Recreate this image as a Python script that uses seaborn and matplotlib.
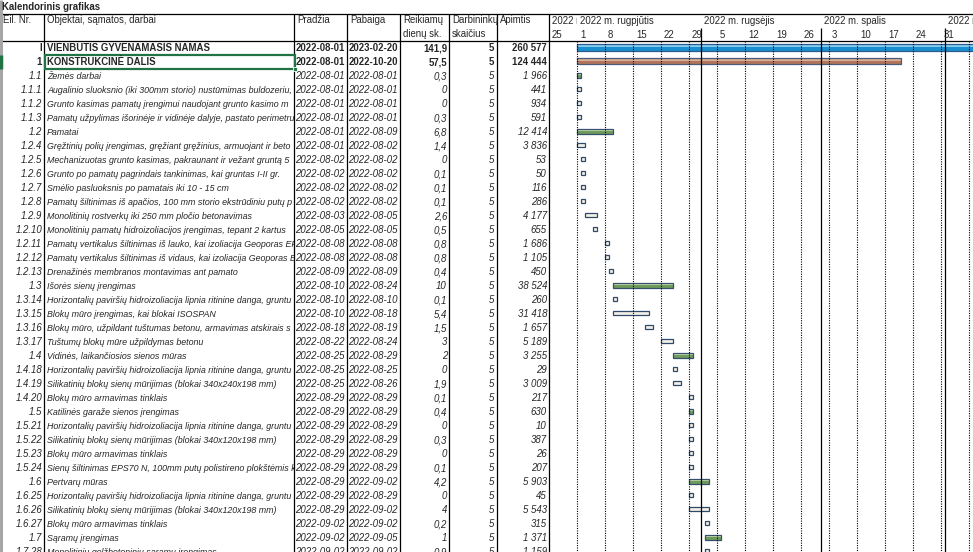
import pandas as pd
import matplotlib
matplotlib.use("Agg")
import matplotlib.pyplot as plt
import matplotlib.dates as mdates
from matplotlib.transforms import Bbox
from matplotlib.patches import Rectangle
import seaborn as sns

# Duomenys (nuskaityti nuo paveikslo, pavadinimai tiek, kiek matosi langelyje)
nr = ["I", "1", "1.1", "1.1.1", "1.1.2", "1.1.3", "1.2", "1.2.4", "1.2.5", "1.2.6",
      "1.2.7", "1.2.8", "1.2.9", "1.2.10", "1.2.11", "1.2.12", "1.2.13", "1.3",
      "1.3.14", "1.3.15", "1.3.16", "1.3.17", "1.4", "1.4.18", "1.4.19", "1.4.20",
      "1.5", "1.5.21", "1.5.22", "1.5.23", "1.5.24", "1.6", "1.6.25", "1.6.26",
      "1.6.27", "1.7", "1.7.28"]
names = [
    "VIENBUTIS GYVENAMASIS NAMAS",
    "KONSTRUKCINĖ DALIS",
    "Žemės darbai",
    "Augalinio sluoksnio (iki 300mm storio) nustūmimas buldozeriu,",
    "Grunto kasimas pamatų įrengimui naudojant grunto kasimo m",
    "Pamatų užpylimas išorinėje ir vidinėje dalyje, pastato perimetru",
    "Pamatai",
    "Gręžtinių polių įrengimas, gręžiant gręžinius, armuojant ir beto",
    "Mechanizuotas grunto kasimas, pakraunant ir vežant gruntą 5",
    "Grunto po pamatų pagrindais tankinimas, kai gruntas I-II gr.",
    "Smėlio pasluoksnis po pamatais iki 10 - 15 cm",
    "Pamatų šiltinimas iš apačios, 100 mm storio ekstrūdiniu putų p",
    "Monolitinių rostverkų iki 250 mm pločio betonavimas",
    "Monolitinių pamatų hidroizoliacijos įrengimas, tepant 2 kartus",
    "Pamatų vertikalus šiltinimas iš lauko, kai izoliacija Geoporas EP",
    "Pamatų vertikalus šiltinimas iš vidaus, kai izoliacija Geoporas E",
    "Drenažinės membranos montavimas ant pamato",
    "Išorės sienų įrengimas",
    "Horizontalių paviršių hidroizoliacija lipnia ritinine danga, gruntu",
    "Blokų mūro įrengimas, kai blokai ISOSPAN",
    "Blokų mūro, užpildant tuštumas betonu, armavimas atskirais s",
    "Tuštumų blokų mūre užpildymas betonu",
    "Vidinės, laikančiosios sienos mūras",
    "Horizontalių paviršių hidroizoliacija lipnia ritinine danga, gruntu",
    "Silikatinių blokų sienų mūrijimas (blokai 340x240x198 mm)",
    "Blokų mūro armavimas tinklais",
    "Katilinės garaže sienos įrengimas",
    "Horizontalių paviršių hidroizoliacija lipnia ritinine danga, gruntu",
    "Silikatinių blokų sienų mūrijimas (blokai 340x120x198 mm)",
    "Blokų mūro armavimas tinklais",
    "Sienų šiltinimas EPS70 N, 100mm putų polistireno plokštėmis k",
    "Pertvarų mūras",
    "Horizontalių paviršių hidroizoliacija lipnia ritinine danga, gruntu",
    "Silikatinių blokų sienų mūrijimas (blokai 340x120x198 mm)",
    "Blokų mūro armavimas tinklais",
    "Sąramų įrengimas",
    "Monolitinių gelžbetoninių sąramų įrengimas",
]
start = ["2022-08-01", "2022-08-01", "2022-08-01", "2022-08-01", "2022-08-01", "2022-08-01",
         "2022-08-01", "2022-08-01", "2022-08-02", "2022-08-02", "2022-08-02", "2022-08-02",
         "2022-08-03", "2022-08-05", "2022-08-08", "2022-08-08", "2022-08-09", "2022-08-10",
         "2022-08-10", "2022-08-10", "2022-08-18", "2022-08-22", "2022-08-25", "2022-08-25",
         "2022-08-25", "2022-08-29", "2022-08-29", "2022-08-29", "2022-08-29", "2022-08-29",
         "2022-08-29", "2022-08-29", "2022-08-29", "2022-08-29", "2022-09-02", "2022-09-02",
         "2022-09-02"]
end = ["2023-02-20", "2022-10-20", "2022-08-01", "2022-08-01", "2022-08-01", "2022-08-01",
       "2022-08-09", "2022-08-02", "2022-08-02", "2022-08-02", "2022-08-02", "2022-08-02",
       "2022-08-05", "2022-08-05", "2022-08-08", "2022-08-08", "2022-08-09", "2022-08-24",
       "2022-08-10", "2022-08-18", "2022-08-19", "2022-08-24", "2022-08-29", "2022-08-25",
       "2022-08-26", "2022-08-29", "2022-08-29", "2022-08-29", "2022-08-29", "2022-08-29",
       "2022-08-29", "2022-09-02", "2022-08-29", "2022-09-02", "2022-09-02", "2022-09-05",
       "2022-09-02"]
days = [141.9, 57.5, 0.3, 0, 0, 0.3, 6.8, 1.4, 0, 0.1, 0.1, 0.1, 2.6, 0.5, 0.8, 0.8, 0.4,
        10, 0.1, 5.4, 1.5, 3, 2, 0, 1.9, 0.1, 0.4, 0, 0.3, 0, 0.1, 4.2, 0, 4, 0.2, 1, 0.9]
workers = [5] * 37
volume = [260577, 124444, 1966, 441, 934, 591, 12414, 3836, 53, 50, 116, 286, 4177, 655,
          1686, 1105, 450, 38524, 260, 31418, 1657, 5189, 3255, 29, 3009, 217, 630, 10,
          387, 26, 207, 5903, 45, 5543, 315, 1371, 1159]

headers = ["Eil. Nr.", "Objektai, sąmatos, darbai", "Pradžia", "Pabaiga",
           "Reikiamų\ndienų sk.", "Darbininkų\nskaičius", "Apimtis"]
month_labels = ["2022 m", "2022 m. rugpjūtis", "2022 m. rugsėjis",
                "2022 m. spalis", "2022 m. lapkritis"]
month_label_at = ["2022-07-25", "2022-08-01", "2022-09-01", "2022-10-01", "2022-11-01"]
month_lines = ["2022-09-01", "2022-10-01", "2022-11-01"]
view_start, view_end = "2022-07-25", "2022-11-08"

df = pd.DataFrame({"nr": nr, "title": names, "start": start, "end": end,
                   "days": days, "workers": workers, "volume": volume})
t0 = pd.to_datetime(df["start"])
df["left"] = mdates.date2num(t0)
df["dur"] = (pd.to_datetime(df["end"]) - t0).dt.days + 1


def kind_of(i, n):
    if i == 0:
        return "objektas"
    if i == 1:
        return "dalis"
    return "samata" if n.count(".") == 1 else "darbas"


df["kind"] = [kind_of(i, n) for i, n in enumerate(df["nr"])]

sns.set_theme(style="white")
plt.rcParams["font.family"] = ["Liberation Sans Narrow", "Liberation Sans", "DejaVu Sans"]
FS = 6.9
FS_NAME = 6.4

W, H = 973, 552
ROW_TOP, ROW_H = 41, 14
fig = plt.figure(figsize=(W / 100, H / 100), dpi=100)
fig.patch.set_facecolor("white")


def px_axes(x0, y0, x1, y1, **kw):
    ax = fig.add_axes([x0 / W, 1 - y1 / H, (x1 - x0) / W, (y1 - y0) / H], **kw)
    ax.set_axis_off()
    ax.patch.set_alpha(0)
    return ax


def clip_px(x0, x1):
    return Bbox.from_extents(x0, 0, x1, H)


# fonas: linijos ir antraštės pikseliais
bg = px_axes(0, 0, W, H)
bg.set_xlim(0, W)
bg.set_ylim(H, 0)
cols = [44, 294, 347, 400, 449, 497, 549]
bg.hlines([13.5, 41], 0, W, color="black", lw=0.9)
bg.vlines(cols, 13.5, H, color="black", lw=0.9)
bg.vlines(1, 0, H, color="#a6a6a6", lw=2.2)
bg.vlines(1, 55, 69, color="#217346", lw=2.5)
bg.text(2, 6.5, "Kalendorinis grafikas", fontsize=FS, fontweight="bold", va="center")
head_x = [3, 47, 297, 350, 403, 452, 500]
for x, h in zip(head_x, headers):
    bg.text(x, 15, h, fontsize=FS, va="top", linespacing=1.5)

n_rows = (H - ROW_TOP) / ROW_H
ax_t = px_axes(0, ROW_TOP, 549, H)
ax_t.set_xlim(0, 549)
ax_t.set_ylim(n_rows - 0.5, -0.5)

ax_g = px_axes(549, ROW_TOP, W, H)
ax_g.set_xlim(mdates.date2num(pd.Timestamp(view_start)), mdates.date2num(pd.Timestamp(view_end)))
ax_g.set_ylim(n_rows - 0.5, -0.5)

ax_h = px_axes(549, 13.5, W, ROW_TOP, sharex=ax_g)
ax_h.set_ylim(ROW_TOP, 13.5)


def fmt_days(d):
    return f"{d:g}".replace(".", ",")


def fmt_vol(v):
    return f"{v:,}".replace(",", " ")


# lentelės tekstas
for i, r in df.iterrows():
    strong = r["kind"] in ("objektas", "dalis")
    kw = dict(va="center", fontweight="bold" if strong else "normal",
              fontstyle="normal" if strong else "italic", clip_on=True)
    cells = [(42, r["nr"], "right", (0, 44), FS),
             (47, r["title"], "left", (44, 294), FS if strong else FS_NAME),
             (345, r["start"], "right", (294, 347), FS),
             (398, r["end"], "right", (347, 400), FS),
             (447, fmt_days(r["days"]), "right", (400, 449), FS),
             (494, str(r["workers"]), "right", (449, 497), FS),
             (547, fmt_vol(r["volume"]), "right", (497, 549), FS)]
    for x, s, ha, (c0, c1), fs in cells:
        t = ax_t.text(x, i + 0.02, s, ha=ha, fontsize=fs, **kw)
        t.set_clip_box(clip_px(c0, c1))

# pažymėtas langelis
ax_t.add_patch(Rectangle((44.5, 0.5), 250.5, 1, fill=False, edgecolor="#217346", lw=1.6))
ax_t.plot([295], [1.5], marker="s", ms=3.5, color="#217346", mec="white", mew=0.6,
          clip_on=False)

# kalendoriaus tinklelis
mondays = pd.date_range("2022-08-01", view_end, freq="7D")
ax_g.vlines(mdates.date2num(mondays), -0.5, n_rows, color="black", lw=0.8,
            linestyles=(0, (1, 1.2)))
ml = mdates.date2num(pd.to_datetime(month_lines))
ax_g.vlines(ml, -0.5, n_rows, color="black", lw=0.9)
ax_h.vlines(ml, 28, ROW_TOP, color="black", lw=0.9)

weeks = pd.date_range(view_start, view_end, freq="7D")
for d in weeks:
    ax_h.text(mdates.date2num(d) + 0.75, 35, str(d.day), fontsize=FS, va="center")
ma = mdates.date2num(pd.to_datetime(month_label_at))
for k, (x, lab) in enumerate(zip(ma, month_labels)):
    t = ax_h.text(x + 0.75, 20.5, lab, fontsize=FS, va="center", clip_on=True)
    x0 = ax_h.transData.transform((x, 0))[0]
    x1 = ax_h.transData.transform((ma[k + 1], 0))[0] if k + 1 < len(ma) else W
    t.set_clip_box(clip_px(x0, x1))

# juostos
styles = {
    "objektas": (0.52, "#1a8fd0", "#86cdf0", "#2a5d8c"),
    "dalis": (0.44, "#b0755a", "#d8ae95", "#4a5b7b"),
    "samata": (0.38, "#6e9a5a", "#c0d9ad", "#34506e"),
    "darbas": (0.30, "#f3f0e7", "#f3f0e7", "#2f4a6a"),
}
for kind, (h, base, hi, edge) in styles.items():
    sub = df[df["kind"] == kind]
    y = sub.index.to_numpy() - 0.06
    ax_g.barh(y, sub["dur"], left=sub["left"], height=h, color=base, lw=0)
    ax_g.barh(y - h * 0.18, sub["dur"], left=sub["left"], height=h * 0.42, color=hi, lw=0)
    ax_g.barh(y, sub["dur"], left=sub["left"], height=h, fill=False, edgecolor=edge, lw=0.9)

fig.savefig("out.png", dpi=100, facecolor="white")
